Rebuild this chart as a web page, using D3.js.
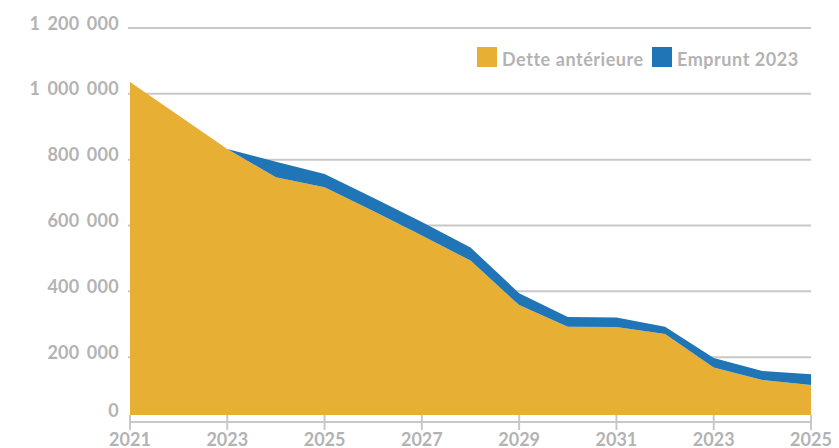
<!DOCTYPE html>
<html>
<head>
<meta charset="utf-8">
<script src="https://cdn.jsdelivr.net/npm/d3@7"></script>
<style>
  html, body { margin: 0; padding: 0; background: #fff; }
  svg text { font-family: Lato, "Open Sans", sans-serif; font-weight: 700; fill: #b3b3b3; }
</style>
</head>
<body>
<svg id="chart" width="839" height="448"></svg>
<script>
const years = [2021, 2022, 2023, 2024, 2025, 2026, 2027, 2028, 2029, 2030, 2031, 2032, 2033, 2034, 2035];
const detteAnterieure = [1012000, 910000, 808000, 722000, 692000, 620000, 545000, 469000, 334000, 268000, 267000, 246000, 144000, 106000, 91000];
const emprunt2023 = [0, 0, 0, 47000, 40000, 40000, 41000, 40000, 36000, 30000, 29000, 22000, 29000, 28000, 33000];
const seriesNames = ["Dette antérieure", "Emprunt 2023"];
const seriesColors = ["#e8af35", "#1f75b5"];
const xTickValues = [2021, 2023, 2025, 2027, 2029, 2031, 2033, 2035];
const xTickLabels = ["2021", "2023", "2025", "2027", "2029", "2031", "2023", "2025"];
const yTickValues = [0, 200000, 400000, 600000, 800000, 1000000, 1200000];

const svg = d3.select("#chart");
const x = d3.scaleLinear().domain([2021, 2035]).range([130, 811]);
const y = d3.scaleLinear().domain([0, 1200000]).range([423, 28]);
const fmt = v => d3.format(",")(v).replace(/,/g, " ");
const baseShift = -8;

// gridlines
svg.append("g").selectAll("line")
  .data(yTickValues.filter(v => v > 0))
  .join("line")
  .attr("x1", 128).attr("x2", 811)
  .attr("y1", d => y(d)).attr("y2", d => y(d))
  .attr("stroke", "#c8c8c8").attr("stroke-width", 2);

// y labels
svg.append("g").selectAll("text")
  .data(yTickValues)
  .join("text")
  .attr("x", 119)
  .attr("y", d => (d === 0 ? y(d) + baseShift : y(d)) + 1.5)
  .attr("text-anchor", "end")
  .attr("font-size", 18)
  .style("word-spacing", "2.5px")
  .style("letter-spacing", "0.3px")
  .text(d => fmt(d));

// x axis ticks
const xAxis = svg.append("g");
xAxis.selectAll("line.tick")
  .data(xTickValues)
  .join("line")
  .attr("class", "tick")
  .attr("x1", d => x(d)).attr("x2", d => x(d))
  .attr("y1", y(0) + baseShift).attr("y2", y(0) + 7)
  .attr("stroke", "#c8c8c8").attr("stroke-width", 2);
xAxis.append("line")
  .attr("x1", x(2021)).attr("x2", x(2035))
  .attr("y1", y(0) - 1).attr("y2", y(0) - 1)
  .attr("stroke", "#c8c8c8").attr("stroke-width", 2);
xAxis.selectAll("text")
  .data(xTickValues)
  .join("text")
  .attr("x", d => x(d))
  .attr("y", 446)
  .attr("text-anchor", "middle")
  .attr("font-size", 18)
  .text((d, i) => xTickLabels[i]);

// stacked areas
const table = years.map((yr, i) => ({ year: yr, a: detteAnterieure[i], b: emprunt2023[i] }));
const stack = d3.stack().keys(["a", "b"]);
const stacked = stack(table);
const area = d3.area()
  .x(d => x(d.data.year))
  .y0(d => y(d[0]))
  .y1(d => y(d[1]));
svg.append("g")
  .attr("transform", `translate(0,${baseShift})`)
  .selectAll("path")
  .data(stacked)
  .join("path")
  .attr("d", area)
  .attr("fill", (d, i) => seriesColors[i]);

// legend
const legend = svg.append("g");
const legendX = [477, 652];
seriesNames.forEach((name, i) => {
  legend.append("rect")
    .attr("x", legendX[i]).attr("y", 47)
    .attr("width", 20).attr("height", 20)
    .attr("fill", seriesColors[i]);
  legend.append("text")
    .attr("x", legendX[i] + 25).attr("y", 66)
    .attr("font-size", 18)
    .style("letter-spacing", "0.55px")
    .text(name);
});
</script>
</body>
</html>
